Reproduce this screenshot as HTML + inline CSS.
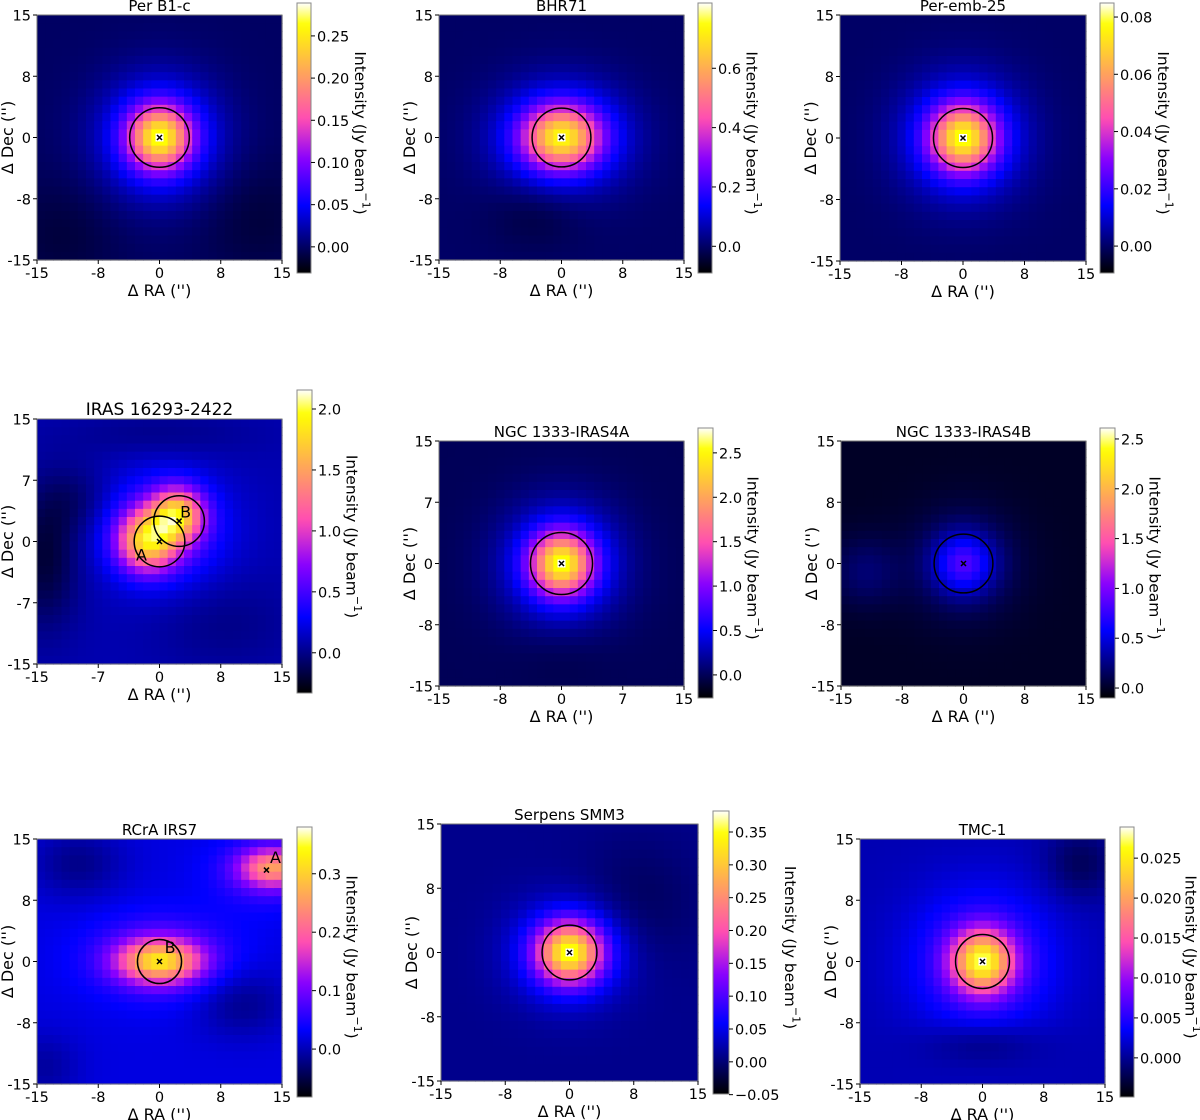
<!DOCTYPE html>
<html><head><meta charset="utf-8">
<style>
html,body{margin:0;padding:0;background:#fff;}
svg{display:block;font-family:"DejaVu Sans","Liberation Sans",sans-serif;}
</style></head>
<body>
<svg id="fig" width="1200" height="1120" viewBox="0 0 1200 1120" xmlns="http://www.w3.org/2000/svg"></svg>
<script>
// ---------- data ----------
const panelTitles = ["Per B1-c","BHR71","Per-emb-25","IRAS 16293-2422","NGC 1333-IRAS4A","NGC 1333-IRAS4B","RCrA IRS7","Serpens SMM3","TMC-1"];
const vMins = [-0.031,-0.09,-0.0094,-0.33,-0.26,-0.10,-0.082,-0.049,-0.0049];
const vMaxs = [0.289,0.82,0.0849,2.156,2.78,2.61,0.38,0.382,0.0289];
const cbTickValues = [[0,0.05,0.1,0.15,0.2,0.25],[0,0.2,0.4,0.6],[0,0.02,0.04,0.06,0.08],[0,0.5,1,1.5,2],[0,0.5,1,1.5,2,2.5],[0,0.5,1,1.5,2,2.5],[0,0.1,0.2,0.3],[-0.05,0,0.05,0.1,0.15,0.2,0.25,0.3,0.35],[0,0.005,0.01,0.015,0.02,0.025]];
const cbTickLabels = [["0.00","0.05","0.10","0.15","0.20","0.25"],["0.0","0.2","0.4","0.6"],["0.00","0.02","0.04","0.06","0.08"],["0.0","0.5","1.0","1.5","2.0"],["0.0","0.5","1.0","1.5","2.0","2.5"],["0.0","0.5","1.0","1.5","2.0","2.5"],["0.0","0.1","0.2","0.3"],["\u22120.05","0.00","0.05","0.10","0.15","0.20","0.25","0.30","0.35"],["0.000","0.005","0.010","0.015","0.020","0.025"]];
const axisTickValues = [-15,-7.5,0,7.5,15];
const xTickLabels = [["-15","-8","0","8","15"],["-15","-8","0","8","15"],["-15","-8","0","8","15"],["-15","-7","0","8","15"],["-15","-8","0","7","15"],["-15","-8","0","8","15"],["-15","-8","0","8","15"],["-15","-8","0","8","15"],["-15","-8","0","8","15"]];
const yTickLabels = [["-15","-8","0","8","15"],["-15","-8","0","8","15"],["-15","-8","0","8","15"],["-15","-7","0","7","15"],["-15","-8","0","7","15"],["-15","-8","0","8","15"],["-15","-8","0","8","15"],["-15","-8","0","8","15"],["-15","-8","0","8","15"]];
// emission model components per panel: amplitude, RA offset, Dec offset, sigma RA, sigma Dec
const backgroundLevels = [0.0,0.0,0.0,0.1,0.0,0.0,0.02,0.01,0.001];
const compAmp = [[0.185,0.085,-0.012,-0.012],[0.5,0.24,-0.04],[0.055,0.024],[1.3,1.25,0.55,-0.3,-0.15,-0.1,-0.1],[1.85,0.75,-0.05],[0.6,0.25,0.2],[0.23,0.08,0.18,0.06,-0.04,-0.04,-0.03],[0.26,0.09,-0.02],[0.02,0.0065,-0.0025,-0.003]];
const compX = [[0,0,-12,12],[0,0,-3],[0,0],[-1.5,2.2,0.5,-14,-10,8,0],[0,0,0],[0,0,-12],[0,0,14,13,-10,10,-14],[0,0,8],[0,0,0,12]];
const compY = [[0,0,-12,-10],[0,0,-9],[0,0],[0,3.3,1.5,-2,5,-10,13],[0,0,-11],[0,0,-1],[0,0.5,11.5,11,12,-5,-13],[0,0,6],[0,0,-10,12]];
const compSX = [[2.6,5,5,5],[3.2,5.5,4],[2.7,5],[2.5,2.2,5,3,3,6,8],[2.6,5,4],[2.5,4.5,3],[3.5,6,2.8,4.5,4,4,3],[2.6,4.5,5],[2.6,6,5,3]];
const compSY = [[2.6,5,5,5],[2.6,4.5,3],[2.7,5],[2.5,2.2,4.5,6,3,4,2],[2.6,5,3],[2.5,4.5,3],[1.8,3.5,1.6,3,3,3,3],[2.4,4,5],[2.6,6,2,3]];
const circleX = [[0],[0],[0],[0,2.4],[0],[0],[0],[0],[0]];
const circleY = [[0],[0],[0],[0,2.5],[0],[0],[0],[0],[0]];
const circleR = [[3.65],[3.6],[3.6],[3.1,3.1],[3.8],[3.6],[2.7],[3.2],[3.3]];
const markerX = [[0],[0],[0],[0,2.4],[0],[0],[0,13.1],[0],[0]];
const markerY = [[0],[0],[0],[0,2.5],[0],[0],[0,11.2],[0],[0]];
const markerWhite = [true,true,true,false,true,false,false,true,true];
const labelText = [[],[],[],["A","B"],[],[],["B","A"],[],[]];
const labelX = [[],[],[],[-2.2,3.2],[],[],[1.3,14.2],[],[]];
const labelY = [[],[],[],[-1.8,3.5],[],[],[1.6,12.6],[],[]];

// ---------- layout (pixels) ----------
const layout = [
 {ix:37,iy:15,is:245,cx:297,cy:3,cw:14,ch:270},
 {ix:439,iy:15,is:245,cx:698,cy:3,cw:14,ch:270},
 {ix:840,iy:15,is:246,cx:1100,cy:3,cw:14,ch:270},
 {ix:37,iy:419,is:245,cx:297,cy:390,cw:15,ch:303},
 {ix:439,iy:441,is:245,cx:698,cy:428,cw:15,ch:270},
 {ix:841,iy:441,is:245,cx:1100,cy:428,cw:15,ch:270},
 {ix:37,iy:839,is:245,cx:297,cy:827,cw:15,ch:270},
 {ix:441,iy:824,is:257,cx:713,cy:811,cw:16,ch:283},
 {ix:860,iy:839,is:245,cx:1120,cy:827,cw:14,ch:270}
];

const NS="http://www.w3.org/2000/svg";
const svg=document.getElementById('fig');
function mk(tag,attrs,parent){const e=document.createElementNS(NS,tag);for(const k in attrs)e.setAttribute(k,attrs[k]);(parent||svg).appendChild(e);return e;}
function clip(v){return Math.max(0,Math.min(1,v));}
function gnuplot2(t){t=clip(t);
 const r=clip(t/0.32-0.78125), g=clip(2*t-0.84);
 let b; if(t<0.25)b=4*t; else if(t<0.42)b=1; else if(t<0.92)b=-2*t+1.84; else b=t/0.08-11.5; b=clip(b);
 return `rgb(${Math.round(r*255)},${Math.round(g*255)},${Math.round(b*255)})`;}

const N=30;
panelTitles.forEach((title,p)=>{
 const L=layout[p];
 const g=mk('g',{});
 
 
 const sx=v=>L.ix+(v+15)/30*L.is;
 const sy=v=>L.iy+(15-v)/30*L.is;
 const cell=L.is/N;
 const hm=mk('g',{},g);
 
 
 for(let i=0;i<N;i++){for(let j=0;j<N;j++){
  const x=-15+(i+0.5), y=15-(j+0.5);
  let v=backgroundLevels[p];
  for(let k=0;k<compAmp[p].length;k++){
   const dx=x-compX[p][k], dy=y-compY[p][k];
   v+=compAmp[p][k]*Math.exp(-(dx*dx/(2*compSX[p][k]**2)+dy*dy/(2*compSY[p][k]**2)));
  }
  const t=(v-vMins[p])/(vMaxs[p]-vMins[p]);
  const r=mk('rect',{x:(sx(x-0.5)).toFixed(2),y:(sy(y+0.5)).toFixed(2),width:(cell+0.6).toFixed(2),height:(cell+0.6).toFixed(2),fill:gnuplot2(t)},hm);
  
  
 }}
 const fr=mk('rect',{x:L.ix,y:L.iy,width:L.is,height:L.is,fill:'none',stroke:'#777','stroke-width':1},g);
 
 
 circleR[p].forEach((rr,k)=>{
  const c=mk('circle',{cx:sx(circleX[p][k]),cy:sy(circleY[p][k]),r:rr/30*L.is,fill:'none',stroke:'#000','stroke-width':1.5},g);
  
  
 });
 markerX[p].forEach((mx,k)=>{
  const X=sx(mx),Y=sy(markerY[p][k]);
  if(markerWhite[p]&&k===0){const w=mk('rect',{x:X-4,y:Y-4,width:8,height:8,fill:'#fff'},g);}
  const m=mk('path',{d:`M${X-2.5},${Y-2.5}L${X+2.5},${Y+2.5}M${X-2.5},${Y+2.5}L${X+2.5},${Y-2.5}`,stroke:'#000','stroke-width':1.5},g);
  
  
 });
 labelText[p].forEach((t,k)=>{
  const tx=mk('text',{x:sx(labelX[p][k]),y:sy(labelY[p][k]),'font-size':16,'text-anchor':'middle','dominant-baseline':'middle',fill:'#000'},g);
  tx.textContent=t;
  
  
 });
 axisTickValues.forEach((tv,k)=>{
  const X=sx(tv);
  mk('line',{x1:X,y1:L.iy+L.is,x2:X,y2:L.iy+L.is+4,stroke:'#000','stroke-width':1},g);
  const tl=mk('text',{x:X,y:L.iy+L.is+18,'font-size':14.5,'text-anchor':'middle',fill:'#000'},g);
  tl.textContent=xTickLabels[p][k];
  
  
  const Y=sy(tv);
  mk('line',{x1:L.ix-4,y1:Y,x2:L.ix,y2:Y,stroke:'#000','stroke-width':1},g);
  const yl=mk('text',{x:L.ix-6,y:Y+5.5,'font-size':14.5,'text-anchor':'end',fill:'#000'},g);
  yl.textContent=yTickLabels[p][k];
  
  
 });
 const xt=mk('text',{x:L.ix+L.is/2,y:L.iy+L.is+36,'font-size':16,'text-anchor':'middle',fill:'#000'},g);
 xt.textContent="\u0394 RA ('')";
 
 
 const yc=L.iy+L.is/2, yx=L.ix-24;
 const yt=mk('text',{x:yx,y:yc,'font-size':16,'text-anchor':'middle',fill:'#000',transform:`rotate(-90 ${yx} ${yc})`},g);
 yt.textContent="\u0394 Dec ('')";
 
 
 const tt=mk('text',{x:L.ix+L.is/2,y:L.iy-4,'font-size':p===3?17:15,'text-anchor':'middle',fill:'#000'},g);
 tt.textContent=title;
 
 
 const gid='cg'+p;
 const lg=mk('linearGradient',{id:gid,x1:0,y1:1,x2:0,y2:0},mk('defs',{},g));
 for(let s=0;s<=40;s++){mk('stop',{offset:s/40,'stop-color':gnuplot2(s/40)},lg);}
 const cb=mk('rect',{x:L.cx,y:L.cy,width:L.cw,height:L.ch,fill:`url(#${gid})`,stroke:'#888','stroke-width':1},g);
 
 
 const cv=v=>L.cy+L.ch-(v-vMins[p])/(vMaxs[p]-vMins[p])*L.ch;
 let maxLen=0;
 cbTickValues[p].forEach((v,k)=>{
  const Y=cv(v);
  mk('line',{x1:L.cx+L.cw,y1:Y,x2:L.cx+L.cw+4,y2:Y,stroke:'#000','stroke-width':1},g);
  const t=mk('text',{x:L.cx+L.cw+6,y:Y+5.5,'font-size':14.5,fill:'#000'},g);
  t.textContent=cbTickLabels[p][k];
  let w=0; try{w=t.getComputedTextLength();}catch(e){w=cbTickLabels[p][k].length*8.5;}
  if(!w)w=cbTickLabels[p][k].length*8.5;
  maxLen=Math.max(maxLen,w);
  
  
 });
 const lx=Math.min(L.cx+L.cw+6+maxLen+10,1190), ly=L.cy+L.ch/2-5;
 const cl=mk('text',{x:lx,y:ly,'font-size':15.5,'text-anchor':'middle','dominant-baseline':'middle',fill:'#000',transform:`rotate(90 ${lx} ${ly})`},g);
 cl.innerHTML='Intensity (Jy beam<tspan baseline-shift="super" font-size="11">\u22121</tspan>)';
 
 
});
</script>
</body></html>
